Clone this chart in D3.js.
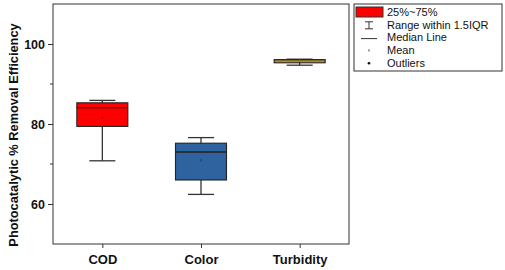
<!DOCTYPE html>
<html>
<head>
<meta charset="utf-8">
<script src="https://cdn.jsdelivr.net/npm/d3@7"></script>
<style>
  body { margin: 0; background: #fff; }
  text { font-family: Arial, "Liberation Sans", sans-serif; }
</style>
</head>
<body>
<script>
    const width = 505;
    const height = 270;

    // box statistics
    const categories = ["COD", "Color", "Turbidity"];
    const q1 = [79.4, 66.0, 95.3];
    const q3 = [85.3, 75.2, 96.1];
    const medians = [84.1, 73.0, 95.8];
    const means = [81.6, 70.9, 95.8];
    const whiskLow = [70.8, 62.4, 94.7];
    const whiskHigh = [85.9, 76.6, 96.2];
    const fills = ["#ff0000", "#2f63a0", "#c29a2c"];

    const yTicks = [60, 80, 100];
    const yMinor = [70, 90];
    const legendLabels = ["25%~75%", "Range within 1.5IQR", "Median Line", "Mean", "Outliers"];

    const margin = {left: 53, right: 156, top: 4, bottom: 26};

    const svg = d3.select("body")
        .append("svg")
        .attr("width", width)
        .attr("height", height);

    const x = d3.scalePoint()
        .domain(categories)
        .range([margin.left, width - margin.right])
        .padding(0.5);

    const y = d3.scaleLinear()
        .domain([50, 110])
        .range([height - margin.bottom, margin.top]);

    const boxW = 51;
    const capW = 26;

    // frame
    svg.append("rect")
        .attr("x", margin.left)
        .attr("y", margin.top)
        .attr("width", width - margin.right - margin.left)
        .attr("height", height - margin.bottom - margin.top)
        .attr("fill", "none")
        .attr("stroke", "#333")
        .attr("stroke-width", 1);

    // y axis
    const yAxis = svg.append("g")
        .attr("transform", `translate(${margin.left},0)`)
        .call(d3.axisLeft(y).tickValues(yTicks).tickSize(5).tickPadding(3));
    yAxis.select(".domain").remove();
    yAxis.selectAll("line").attr("stroke", "#333");
    yAxis.selectAll("text")
        .attr("font-size", 12.5)
        .attr("font-weight", "bold")
        .attr("fill", "#111");

    svg.append("g")
        .selectAll("line")
        .data(yMinor)
        .join("line")
        .attr("x1", margin.left - 3)
        .attr("x2", margin.left)
        .attr("y1", d => y(d))
        .attr("y2", d => y(d))
        .attr("stroke", "#333");

    // x axis
    const xAxis = svg.append("g")
        .attr("transform", `translate(0,${height - margin.bottom})`)
        .call(d3.axisBottom(x).tickSize(4).tickPadding(7));
    xAxis.select(".domain").remove();
    xAxis.selectAll("line").attr("stroke", "#333");
    xAxis.selectAll("text")
        .attr("font-size", 13)
        .attr("font-weight", "bold")
        .attr("fill", "#111");

    // y title
    svg.append("text")
        .attr("transform", `translate(18,${(margin.top + height - margin.bottom) / 2 + 11}) rotate(-90)`)
        .attr("text-anchor", "middle")
        .attr("font-size", 12.8)
        .attr("font-weight", "bold")
        .attr("fill", "#111")
        .text("Photocatalytic % Removal Efficiency");

    // boxes
    const boxes = svg.append("g")
        .selectAll("g")
        .data(categories)
        .join("g");

    boxes.append("line")
        .attr("x1", d => x(d))
        .attr("x2", d => x(d))
        .attr("y1", (d, i) => y(whiskLow[i]))
        .attr("y2", (d, i) => y(whiskHigh[i]))
        .attr("stroke", "#333")
        .attr("stroke-width", 1.3);

    boxes.selectAll(".cap")
        .data((d, i) => [whiskLow[i], whiskHigh[i]].map(v => ({c: d, v})))
        .join("line")
        .attr("class", "cap")
        .attr("x1", d => x(d.c) - capW / 2)
        .attr("x2", d => x(d.c) + capW / 2)
        .attr("y1", d => y(d.v))
        .attr("y2", d => y(d.v))
        .attr("stroke", "#333")
        .attr("stroke-width", 1.3);

    boxes.append("rect")
        .attr("x", d => x(d) - boxW / 2)
        .attr("y", (d, i) => y(q3[i]))
        .attr("width", boxW)
        .attr("height", (d, i) => y(q1[i]) - y(q3[i]))
        .attr("fill", (d, i) => fills[i])
        .attr("stroke", "#222")
        .attr("stroke-width", 1.1);

    boxes.append("line")
        .attr("x1", d => x(d) - boxW / 2)
        .attr("x2", d => x(d) + boxW / 2)
        .attr("y1", (d, i) => y(medians[i]))
        .attr("y2", (d, i) => y(medians[i]))
        .attr("stroke", "#222")
        .attr("stroke-width", (d, i) => i === 2 ? 0.4 : 1.3);

    boxes.append("rect")
        .attr("x", d => x(d) - 1)
        .attr("y", (d, i) => y(means[i]) - 1)
        .attr("width", 2)
        .attr("height", 2)
        .attr("fill", (d, i) => d3.color(fills[i]).darker(0.8));

    // legend
    const lg = svg.append("g").attr("transform", "translate(354,4)");
    lg.append("rect")
        .attr("width", 148)
        .attr("height", 67)
        .attr("fill", "#fff")
        .attr("stroke", "#333");

    const rowY = [8, 20.8, 33.6, 46.4, 59.2];
    lg.append("rect")
        .attr("x", 2).attr("y", 3)
        .attr("width", 27).attr("height", 10)
        .attr("fill", fills[0])
        .attr("stroke", "#333");
    // whisker glyph
    lg.append("line").attr("x1", 15).attr("x2", 15).attr("y1", rowY[1] - 3).attr("y2", rowY[1] + 4).attr("stroke", "#333");
    lg.append("line").attr("x1", 11).attr("x2", 19).attr("y1", rowY[1] - 3).attr("y2", rowY[1] - 3).attr("stroke", "#333");
    lg.append("line").attr("x1", 11).attr("x2", 19).attr("y1", rowY[1] + 4).attr("y2", rowY[1] + 4).attr("stroke", "#333");
    // median glyph
    lg.append("line").attr("x1", 7).attr("x2", 23).attr("y1", rowY[2] + 1).attr("y2", rowY[2] + 1).attr("stroke", "#333");
    // mean glyph
    lg.append("rect").attr("x", 14).attr("y", rowY[3] - 1).attr("width", 2).attr("height", 2).attr("fill", "#999");
    // outlier glyph
    lg.append("circle").attr("cx", 15).attr("cy", rowY[4]).attr("r", 1.3).attr("fill", "#111");

    lg.selectAll(".lt")
        .data(legendLabels)
        .join("text")
        .attr("class", "lt")
        .attr("x", 33)
        .attr("y", (d, i) => rowY[i])
        .attr("dy", "0.35em")
        .attr("font-size", 11)
        .attr("fill", "#111")
        .text(d => d);
</script>
</body>
</html>
